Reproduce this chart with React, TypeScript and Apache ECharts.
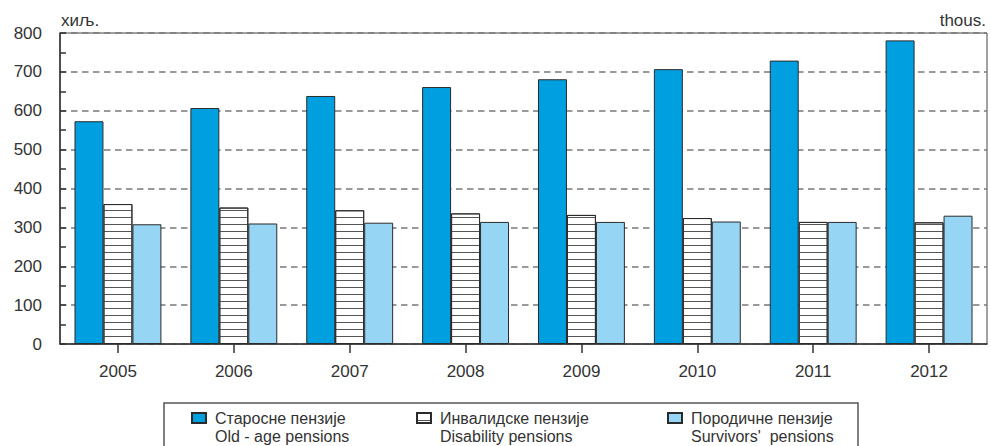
import React, { useEffect, useRef } from "react";
import * as echarts from "echarts";

const years = ["2005", "2006", "2007", "2008", "2009", "2010", "2011", "2012"];
const oldAge = [573, 607, 638, 661, 681, 707, 729, 781];
const disability = [360, 351, 344, 336, 332, 324, 314, 313];
const survivors = [308, 310, 312, 314, 314, 315, 314, 330];
const namesSr = ["Старосне пензије", "Инвалидске пензије", "Породичне пензије"];
const namesEn = ["Old - age pensions", "Disability pensions", "Survivors'  pensions"];
const yTicks = [0, 100, 200, 300, 400, 500, 600, 700, 800];

const FONT = "'Liberation Sans', Arial, sans-serif";

export default function App() {
  const ref = useRef<HTMLDivElement>(null);
  useEffect(() => {
    document.body.style.margin = "0";
    if (!ref.current) return;
    const chart = echarts.init(ref.current, undefined, { renderer: "svg" });
    const border = "#2b2b2b";
    const legendLefts = [191, 416, 667];
    const legends = namesSr.map((n, i) => ({
      data: [n],
      left: legendLefts[i],
      top: 392,
      padding: 0,
      icon: "rect",
      itemWidth: 14,
      itemHeight: 10,
      selectedMode: false,
      formatter: (name: string) =>
        "{e| }\n{a|" + name + "}\n{b|" + namesEn[namesSr.indexOf(name)] + "}",
      textStyle: {
        fontFamily: FONT,
        color: "#333",
        rich: {
          e: { fontSize: 16, lineHeight: 18, padding: [0, 0, 0, 4] },
          a: { fontSize: 16, lineHeight: 18, color: "#333", padding: [0, 0, 0, 4] },
          b: { fontSize: 16, lineHeight: 18, color: "#333", padding: [0, 0, 0, 4] },
        },
      },
    }));
    const option: any = {
      animation: false,
      textStyle: { fontFamily: FONT },
      grid: {
        left: 60,
        right: 4,
        top: 33,
        bottom: 102,
        show: true,
        borderColor: "#444",
        borderWidth: 1,
        backgroundColor: "transparent",
      },
      legend: legends,
      xAxis: {
        type: "category",
        data: years,
        axisLine: { lineStyle: { color: "#333", width: 1.5 } },
        axisTick: { show: true, alignWithLabel: true, length: 9, lineStyle: { color: "#333", width: 1.5 } },
        axisLabel: { fontSize: 17, color: "#333", margin: 19, fontFamily: FONT },
      },
      yAxis: {
        type: "value",
        min: yTicks[0],
        max: yTicks[yTicks.length - 1],
        interval: 100,
        axisLine: { show: true, lineStyle: { color: "#333", width: 1.5 } },
        axisTick: { show: true, inside: true, length: 6, lineStyle: { color: "#333", width: 1.5 } },
        minorTick: { show: true, splitNumber: 2, length: 6, lineStyle: { color: "#333", width: 1.5 } },
        axisLabel: { fontSize: 17, color: "#333", margin: 18, fontFamily: FONT },
        splitLine: {
          show: true,
          lineStyle: { color: "#7a7a7a", width: 1.5, type: [6.5, 4.5] },
        },
      },
      series: [
        {
          name: namesSr[0],
          type: "bar",
          data: oldAge,
          barGap: "0%",
          barCategoryGap: "25%",
          itemStyle: { color: "#009FDF", borderColor: border, borderWidth: 1 },
        },
        {
          name: namesSr[1],
          type: "bar",
          data: disability,
          barGap: "0%",
          barCategoryGap: "25%",
          itemStyle: {
            color: "#ffffff",
            borderColor: border,
            borderWidth: 1,
            decal: {
              symbol: "rect",
              symbolSize: 1,
              dashArrayX: [1, 0],
              dashArrayY: [1, 5.5],
              rotation: 0,
              color: "#555",
            },
          },
        },
        {
          name: namesSr[2],
          type: "bar",
          data: survivors,
          barGap: "0%",
          barCategoryGap: "25%",
          itemStyle: { color: "#96D5F4", borderColor: border, borderWidth: 1 },
        },
      ],
      graphic: [
        {
          type: "text",
          left: 61,
          top: 12,
          style: { text: "хиљ.", fontSize: 17, fill: "#333", fontFamily: FONT },
        },
        {
          type: "text",
          right: 5,
          top: 12,
          style: { text: "thous.", fontSize: 17, fill: "#333", fontFamily: FONT },
        },
        {
          type: "rect",
          shape: { x: 164, y: 403, width: 694, height: 70 },
          style: { fill: "none", stroke: "#555", lineWidth: 1.5 },
          silent: true,
        },
      ],
    };
    chart.setOption(option);
    return () => chart.dispose();
  }, []);
  return <div ref={ref} style={{ width: 991, height: 446 }} />;
}
